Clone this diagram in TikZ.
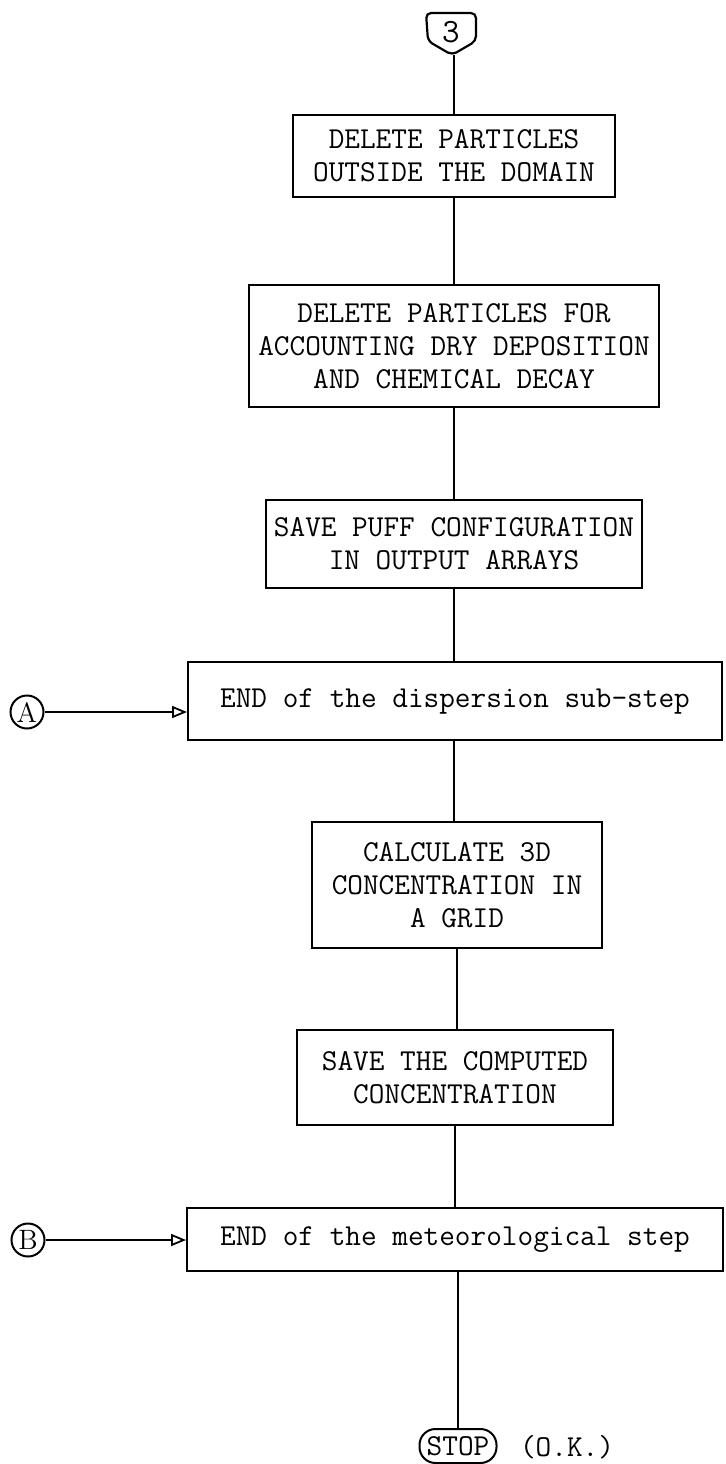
\documentclass[tikz,border=0pt]{standalone}
\usepackage{fontspec}
\usetikzlibrary{arrows.meta}
\begin{document}
\begin{tikzpicture}[x=0.5pt,y=-0.5pt,
  txt/.style={font=\ttfamily\fontsize{15.2}{16.5}\selectfont, align=center, inner sep=0pt},
  box/.style={txt, draw, line width=1pt},
  conn/.style={line width=0.9pt},
  arr/.style={line width=0.9pt, -{Triangle[open,length=7.5pt,width=6pt]}},
  circ/.style={draw, circle, line width=1pt, minimum size=16.5pt, inner sep=0pt, font=\rmfamily\fontsize{14}{15}\selectfont}
  ]
\useasboundingbox (0,0) rectangle (726,1464);

% connector symbol 3
\node[txt, font=\ttfamily\fontsize{17}{18}\selectfont] (c3) at (451,32) {3};
\draw[line width=1.1pt, rounded corners=2.5pt] (426,13) -- (476,13) -- (476,41) -- (452,55) -- (428,41) -- cycle;
\coordinate (c3tip) at (454,55);

\node[box, minimum width=161pt, minimum height=41pt] (b1) at (454,156) {DELETE PARTICLES\\OUTSIDE THE DOMAIN};
\node[box, minimum width=205pt, minimum height=61pt] (b2) at (454,346) {DELETE PARTICLES FOR\\ACCOUNTING DRY DEPOSITION\\AND CHEMICAL DECAY};
\node[box, minimum width=188pt, minimum height=44pt] (b3) at (454,544) {SAVE PUFF CONFIGURATION\\IN OUTPUT ARRAYS};
\node[box, minimum width=267pt, minimum height=39pt] (bA) at (455,701) {\raisebox{-2.5pt}{END of the dispersion sub-step}};
\node[box, minimum width=145pt, minimum height=63pt] (b4) at (457,885) {CALCULATE 3D\\CONCENTRATION IN\\A GRID};
\node[box, minimum width=158pt, minimum height=47.5pt] (b5) at (455,1077.5) {SAVE THE COMPUTED\\CONCENTRATION};
\node[box, minimum width=268pt, minimum height=31.5pt] (bB) at (455,1239.5) {END of the meteorological step};
\node[box, minimum width=38.5pt, minimum height=17pt, rounded corners=8pt] (stop) at (458,1446) {STOP};
\node[txt] (ok) at (567,1447) {(O.K.)};

\node[circ] (A) at (27,712) {A};
\node[circ] (B) at (28,1240) {B};

\draw[conn] (c3tip) -- (c3tip |- b1.north);
\draw[conn] (b1.south) -- (b1.south |- b2.north);
\draw[conn] (b2.south) -- (b2.south |- b3.north);
\draw[conn] (b3.south) -- (b3.south |- bA.north);
\draw[conn] (b3.south |- bA.south) -- (b3.south |- b4.north);
\draw[conn] (b4.south) -- (b4.south |- b5.north);
\draw[conn] (b5.south) -- (b5.south |- bB.north);
\draw[conn] (stop.north |- bB.south) -- (stop.north);

\draw[arr] (A) -- (A -| bA.west);
\draw[arr] (B) -- (B -| bB.west);
\end{tikzpicture}
\end{document}
